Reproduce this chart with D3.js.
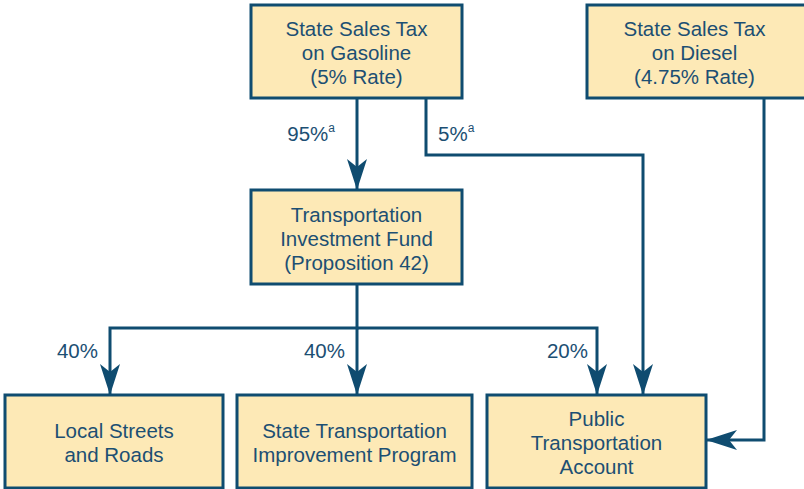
<!DOCTYPE html>
<html>
<head>
<meta charset="utf-8">
<script src="https://cdn.jsdelivr.net/npm/d3@7"></script>
<style>
  body { margin: 0; background: #fff; }
  svg { display: block; font-family: "Liberation Sans", Arial, sans-serif; }
</style>
</head>
<body>
<svg id="chart" width="804" height="489"></svg>
<script>
// node labels
var nodeIds = ['gas', 'diesel', 'tif', 'local', 'stip', 'pta'];
var nodeLabels = [
    ['State Sales Tax', 'on Gasoline', '(5% Rate)'],
    ['State Sales Tax', 'on Diesel', '(4.75% Rate)'],
    ['Transportation', 'Investment Fund', '(Proposition 42)'],
    ['Local Streets', 'and Roads'],
    ['State Transportation', 'Improvement Program'],
    ['Public', 'Transportation', 'Account']
];
// flows: from, to, share label
var flowFrom = ['gas', 'gas', 'tif', 'tif', 'tif', 'diesel'];
var flowTo = ['tif', 'pta', 'local', 'stip', 'pta', 'pta'];
var flowShare = ['95%', '5%', '40%', '40%', '20%', ''];
var flowNote = ['a', 'a', '', '', '', ''];

// layout (box edges in px)
var layout = {
    gas:    { x0: 251, x1: 462, y0: 5,   y1: 98 },
    diesel: { x0: 587, x1: 808, y0: 5,   y1: 98 },
    tif:    { x0: 251, x1: 462, y0: 190, y1: 284 },
    local:  { x0: 5,   x1: 223, y0: 395, y1: 488 },
    stip:   { x0: 237, x1: 472, y0: 395, y1: 488 },
    pta:    { x0: 487, x1: 706, y0: 395, y1: 488 }
};

// routes per flow, as polyline points
var routes = [
    [[357, 98], [357, 190]],
    [[426, 98], [426, 155], [643, 155], [643, 395]],
    [[357, 284], [357, 328], [110, 328], [110, 395]],
    [[357, 328], [357, 395]],
    [[357, 328], [597, 328], [597, 395]],
    [[764, 98], [764, 440], [706, 440]]
];
var labelPos = [
    { x: 335, y: 141, anchor: 'end' },
    { x: 438, y: 141, anchor: 'start' },
    { x: 98,  y: 358, anchor: 'end' },
    { x: 345, y: 358, anchor: 'end' },
    { x: 588, y: 358, anchor: 'end' }, 
    null
];

var ink = '#0f4c70';
var textInk = '#1c4f73';
var fill = '#fde9b6';
var fontSize = 20.5;
var lineGap = 24;

var svg = d3.select('#chart');

var nodes = nodeIds.map(function(id, i) {
    return { id: id, lines: nodeLabels[i], box: layout[id] };
});

// arrowhead marker
var defs = svg.append('defs');
defs.append('marker')
    .attr('id', 'head')
    .attr('viewBox', '-32 -11 34 22')
    .attr('refX', 0)
    .attr('refY', 0)
    .attr('markerWidth', 34)
    .attr('markerHeight', 22)
    .attr('markerUnits', 'userSpaceOnUse')
    .attr('orient', 'auto')
    .append('path')
    .attr('d', 'M0,0 L-31,-10 L-23,0 L-31,10 Z')
    .attr('fill', ink);

var line = d3.line();

// boxes
var g = svg.selectAll('g.node').data(nodes).enter().append('g').attr('class', 'node');
g.append('rect')
    .attr('x', function(d) { return d.box.x0; })
    .attr('y', function(d) { return d.box.y0; })
    .attr('width', function(d) { return d.box.x1 - d.box.x0; })
    .attr('height', function(d) { return d.box.y1 - d.box.y0; })
    .attr('fill', fill)
    .attr('stroke', ink)
    .attr('stroke-width', 3);

g.each(function(d) {
    var cx = (d.box.x0 + Math.min(d.box.x1, 802)) / 2;
    var cy = (d.box.y0 + d.box.y1) / 2 + 1.5;
    var n = d.lines.length;
    d3.select(this).selectAll('text').data(d.lines).enter().append('text')
        .attr('x', cx)
        .attr('y', function(t, i) { return cy + (i - (n - 1) / 2) * lineGap; })
        .attr('dy', '0.35em')
        .attr('text-anchor', 'middle')
        .attr('font-size', fontSize)
        .attr('fill', textInk)
        .text(function(t) { return t; });
});

// flow lines
svg.selectAll('path.flow').data(routes).enter().append('path')
    .attr('class', 'flow')
    .attr('d', function(d) { return line(d); })
    .attr('fill', 'none')
    .attr('stroke', ink)
    .attr('stroke-width', 3)
    .attr('marker-end', 'url(#head)');

// share labels
flowShare.forEach(function(s, i) {
    if (!s) return;
    var p = labelPos[i];
    var t = svg.append('text')
        .attr('x', p.x)
        .attr('y', p.y)
        .attr('text-anchor', p.anchor)
        .attr('font-size', fontSize)
        .attr('fill', textInk);
    t.append('tspan').text(s);
    if (flowNote[i]) {
        t.append('tspan')
            .attr('dy', -9)
            .attr('font-size', 12)
            .text(flowNote[i]);
    }
});
</script>
</body>
</html>
